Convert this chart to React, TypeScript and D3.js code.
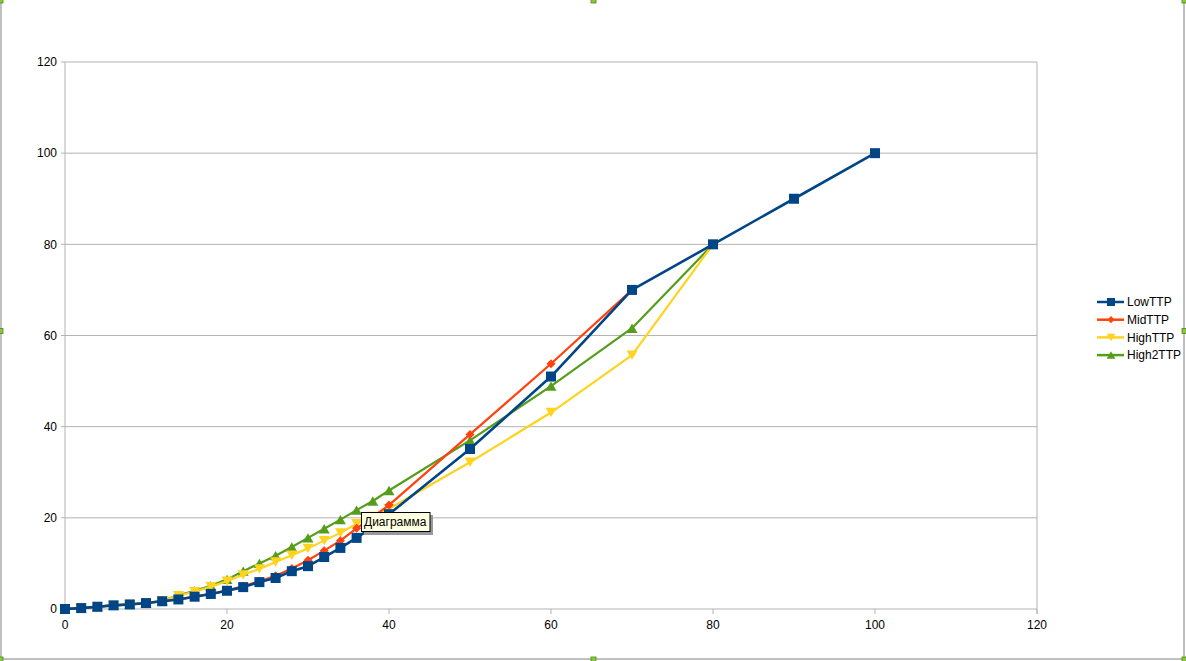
import React from 'react';
import * as d3 from 'd3';

// x column shared by all series
const xLow = [0, 2, 4, 6, 8, 10, 12, 14, 16, 18, 20, 22, 24, 26, 28, 30, 32, 34, 36, 38, 40, 50, 60, 70, 80, 90, 100];
const lowTTP = [0, 0.2, 0.5, 0.8, 1.0, 1.3, 1.7, 2.1, 2.7, 3.3, 4.0, 4.8, 5.9, 6.8, 8.3, 9.4, 11.4, 13.4, 15.6, 18.0, 20.8, 35.1, 51.0, 70, 80, 90, 100];

const xMid = [0, 2, 4, 6, 8, 10, 12, 14, 16, 18, 20, 22, 24, 26, 28, 30, 32, 34, 36, 38, 40, 50, 60, 70];
const midTTP = [0, 0.2, 0.5, 0.8, 1.0, 1.3, 1.7, 2.1, 2.7, 3.3, 4.1, 5.0, 6.1, 7.3, 8.9, 10.7, 12.8, 15.0, 17.7, 20.2, 22.8, 38.3, 53.8, 70];

const xHigh = [0, 2, 4, 6, 8, 10, 12, 14, 16, 18, 20, 22, 24, 26, 28, 30, 32, 34, 36, 38, 40, 50, 60, 70, 80];
const highTTP = [0, 0.2, 0.5, 0.8, 1.0, 1.3, 1.8, 2.9, 3.8, 4.9, 6.1, 7.5, 8.8, 10.3, 11.8, 13.3, 15.0, 16.7, 18.7, 20.3, 22.0, 32.2, 43.1, 55.7, 80];
const high2TTP = [0, 0.2, 0.5, 0.8, 1.0, 1.3, 1.8, 3.0, 4.0, 5.1, 6.5, 8.3, 10.0, 11.7, 13.6, 15.6, 17.6, 19.6, 21.7, 23.7, 26.0, 37.0, 48.9, 61.6, 80];

const ticks = [0, 20, 40, 60, 80, 100, 120];

type Marker = 'square' | 'diamond' | 'down' | 'up';
interface Series {
  name: string;
  xs: number[];
  ys: number[];
  color: string;
  marker: Marker;
  width: number;
}

const series: Series[] = [
  { name: 'LowTTP', xs: xLow, ys: lowTTP, color: '#004586', marker: 'square', width: 2.6 },
  { name: 'MidTTP', xs: xMid, ys: midTTP, color: '#ff420e', marker: 'diamond', width: 2.2 },
  { name: 'HighTTP', xs: xHigh, ys: highTTP, color: '#ffd320', marker: 'down', width: 2.2 },
  { name: 'High2TTP', xs: xHigh, ys: high2TTP, color: '#579d1c', marker: 'up', width: 2.2 },
];

const W = 1186;
const H = 661;
const plot = { left: 65, right: 1037, top: 62, bottom: 609 };
const font = '"Liberation Sans", Arial, sans-serif';

function markerPath(m: Marker, s: number): string {
  const h = s / 2;
  if (m === 'square') return `M${-h},${-h}H${h}V${h}H${-h}Z`;
  if (m === 'diamond') return `M0,${-h}L${h},0L0,${h}L${-h},0Z`;
  if (m === 'down') return `M${-h},${-h * 0.85}H${h}L0,${h * 0.85}Z`;
  return `M${-h},${h * 0.85}H${h}L0,${-h * 0.85}Z`;
}

const markerSize: Record<Marker, number> = { square: 10, diamond: 9, down: 11, up: 11 };

export default function App() {
  const x = d3.scaleLinear().domain([0, 120]).range([plot.left, plot.right]);
  const y = d3.scaleLinear().domain([0, 120]).range([plot.bottom, plot.top]);
  const line = d3.line<[number, number]>().x(d => x(d[0])).y(d => y(d[1]));

  // drawn in reverse so LowTTP ends on top
  const drawOrder = [...series].reverse();
  const handles = [
    [0, 0], [W / 2, 0], [W - 2, 0],
    [0, H / 2], [W - 2, H / 2],
    [0, H - 2], [W / 2, H - 2], [W - 2, H - 2],
  ];

  return (
    <div style={{ position: 'fixed', left: 0, top: 0, width: W, height: H, background: '#fff' }}>
      <svg width={W} height={H} style={{ display: 'block', fontFamily: font }}>
        <rect x={1} y={-1} width={W - 3} height={H - 1} fill="#fff" stroke="#c0c0c0" strokeWidth={2} />

        {/* grid */}
        {ticks.map(t => (
          <line key={'g' + t} x1={plot.left - 4} x2={plot.right} y1={y(t)} y2={y(t)} stroke="#b3b3b3" strokeWidth={1} />
        ))}
        <line x1={plot.left} x2={plot.left} y1={plot.top} y2={plot.bottom + 5} stroke="#b3b3b3" />
        <line x1={plot.right} x2={plot.right} y1={plot.top} y2={plot.bottom + 5} stroke="#b3b3b3" />
        {ticks.map(t => (
          <line key={'xt' + t} x1={x(t)} x2={x(t)} y1={plot.bottom} y2={plot.bottom + 5} stroke="#b3b3b3" />
        ))}

        {/* tick labels */}
        {ticks.map(t => (
          <text key={'yl' + t} x={plot.left - 8} y={y(t)} dy="0.35em" textAnchor="end" fontSize={12} fill="#000">
            {t}
          </text>
        ))}
        {ticks.map(t => (
          <text key={'xl' + t} x={x(t)} y={plot.bottom + 20} textAnchor="middle" fontSize={12} fill="#000">
            {t}
          </text>
        ))}

        {/* series */}
        {drawOrder.map(s => {
          const pts = s.xs.map((v, i) => [v, s.ys[i]] as [number, number]);
          return (
            <g key={s.name}>
              <path d={line(pts) ?? ''} fill="none" stroke={s.color} strokeWidth={s.width} strokeLinejoin="round" />
              {pts.map((p, i) => (
                <path
                  key={i}
                  d={markerPath(s.marker, markerSize[s.marker])}
                  transform={`translate(${x(p[0])},${y(p[1])})`}
                  fill={s.color}
                />
              ))}
            </g>
          );
        })}

        {/* legend */}
        {series.map((s, i) => {
          const ly = 302 + i * 17.7;
          return (
            <g key={'lg' + s.name} transform={`translate(1097,${ly})`}>
              <line x1={0} x2={27} y1={0} y2={0} stroke={s.color} strokeWidth={2.5} />
              <path d={markerPath(s.marker, markerSize[s.marker] * 0.8)} transform="translate(14,0)" fill={s.color} />
              <text x={30} y={0} dy="0.35em" fontSize={12} fill="#000">
                {s.name}
              </text>
            </g>
          );
        })}

        {/* tooltip */}
        <rect x={364} y={515} width={69} height={20} fill="#999" />
        <rect x={361.5} y={512.5} width={68.5} height={19} fill="#ffffe1" stroke="#000" strokeWidth={1} />
        <text x={364} y={522} dy="0.35em" fontSize={12} fill="#000">
          Диаграмма
        </text>

        {/* selection handles */}
        {handles.map(([hx, hy], i) => (
          <rect key={'h' + i} x={hx - 2} y={hy - 2} width={5} height={5} fill="#8cc63f" stroke="#4a8a12" strokeWidth={0.8} />
        ))}
      </svg>
    </div>
  );
}
